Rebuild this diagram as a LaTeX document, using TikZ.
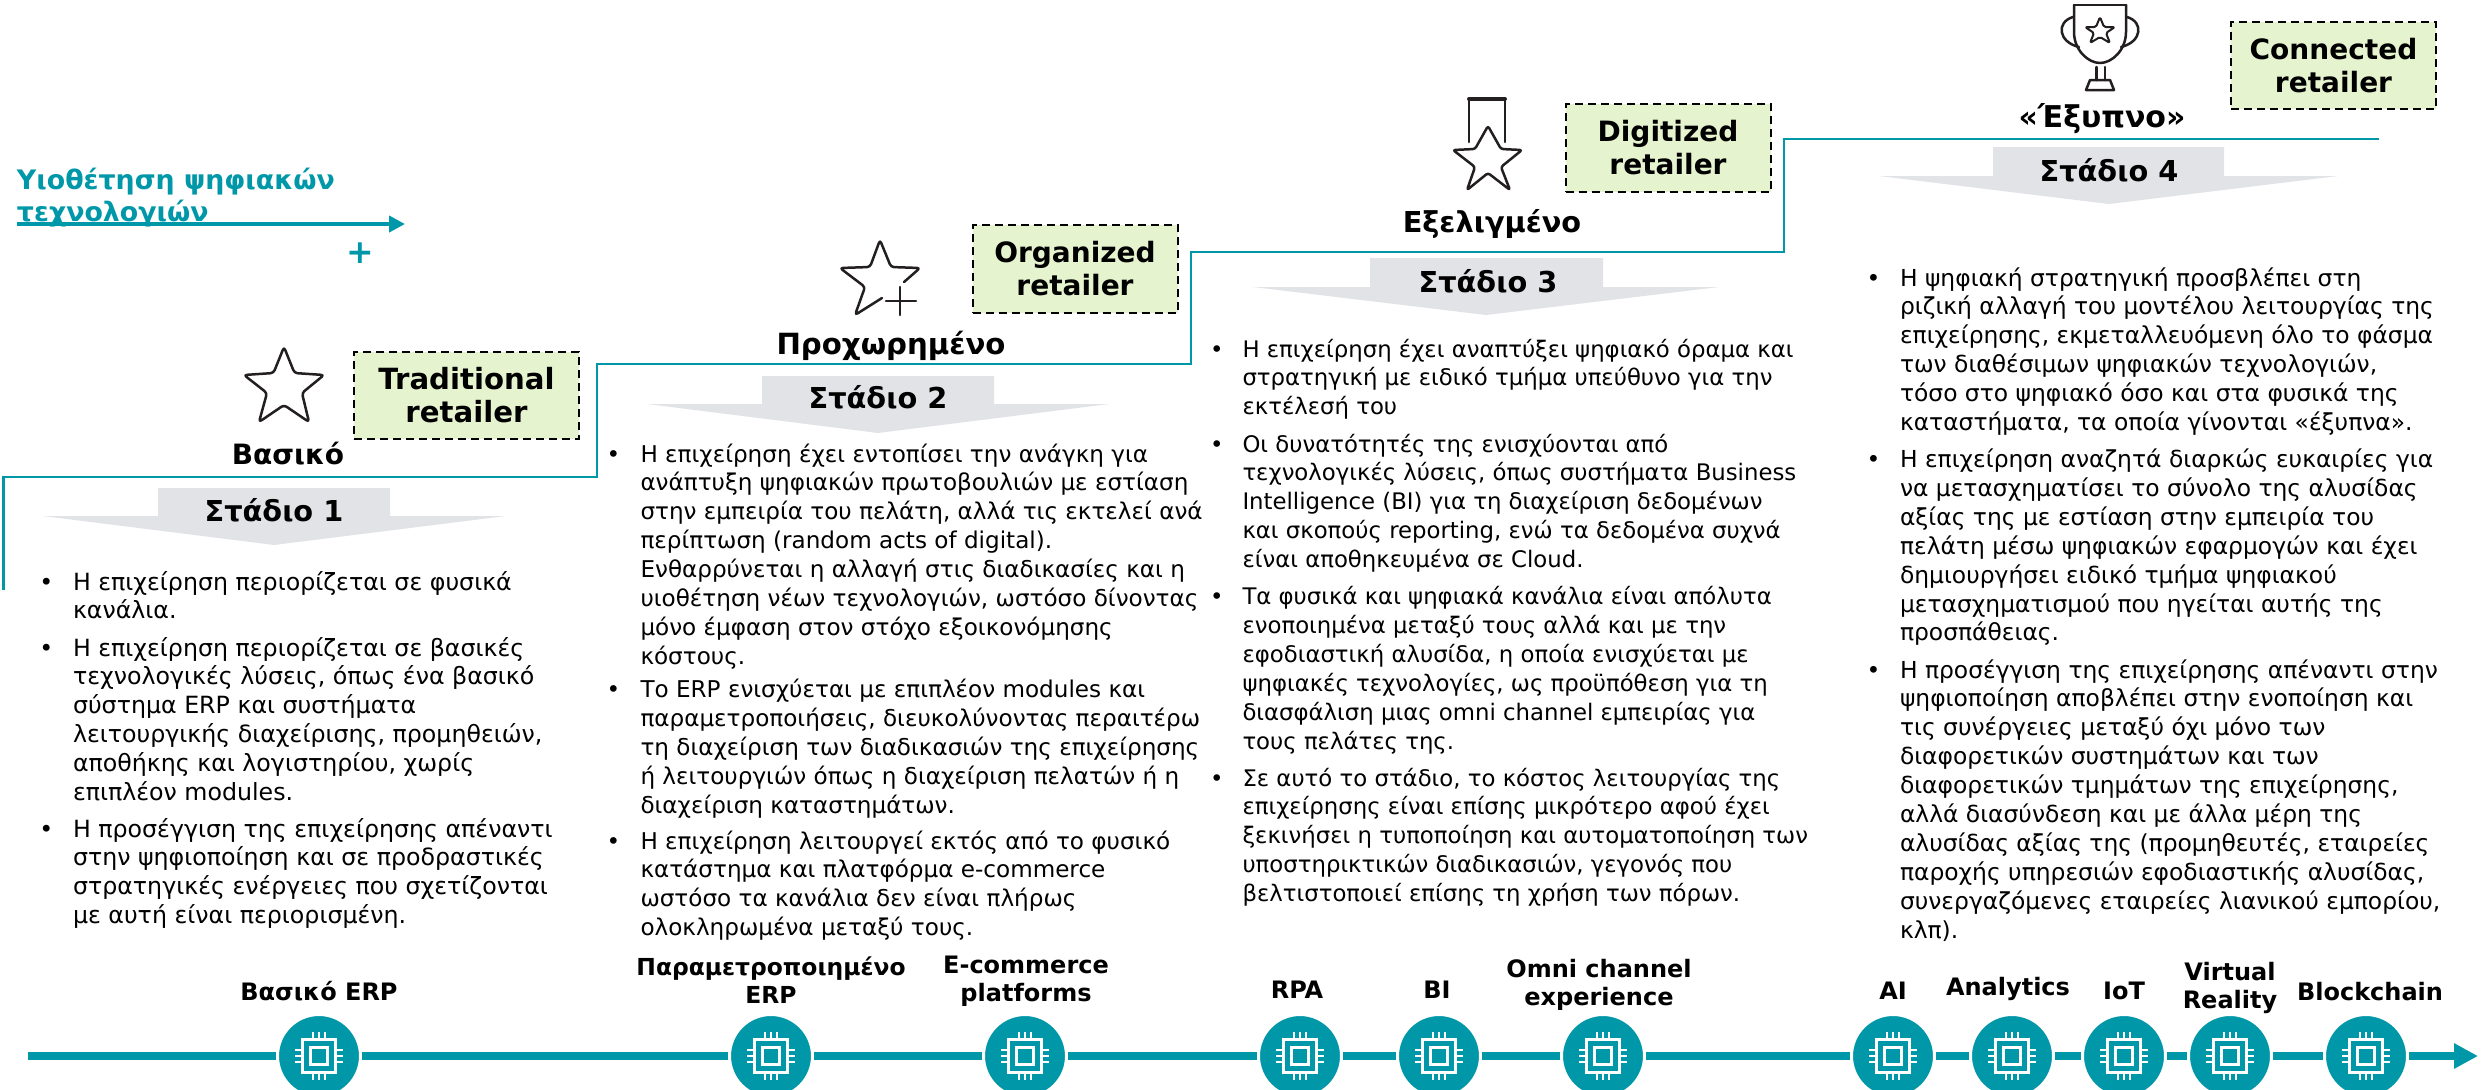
\documentclass[tikz,border=0pt]{standalone}
\usepackage{fontspec}
\setmainfont{DejaVu Sans}
\usetikzlibrary{arrows.meta}
\definecolor{teal1}{HTML}{0098A9}
\definecolor{tagfill}{HTML}{E6F3CF}
\definecolor{stagegray}{HTML}{E1E3E6}
\definecolor{iconink}{HTML}{231F20}
\newcommand\fsl[2]{\fontsize{#1}{#2}\selectfont}
\newcommand\para[6]{%
  \node[bodytext,font=\fsl{#6}{14.45}] (#1) at ({#3},{#4-40}) {\rule{0pt}{20pt}#5};
  \node[bodytext,font=\fsl{#6}{14.45}] (#1b) at ({#2},{#4-40}) {\rule{0pt}{20pt}•};}
\newcommand\clab[5]{\node[centertext,font=\bfseries\fsl{#5}{14.4}] (#1) at ({#2},{#3-40}) {\rule{0pt}{20pt}#4};}
\tikzset{
  bodytext/.style={anchor=north west,inner sep=0pt,outer sep=0pt,align=left,text=black},
  centertext/.style={anchor=north,inner sep=0pt,outer sep=0pt,align=center,text=black},
  chipnode/.style={circle,fill=teal1,draw=white,line width=1.5pt,minimum size=41.5pt,inner sep=0pt},
  trackline/.style={draw=teal1,line width=4pt},
  stair/.style={draw=teal1,line width=1.4pt,line join=miter},
  tagbox/.style={draw=black,dashed,line width=1pt,dash pattern=on 4pt off 2.5pt,fill=tagfill,inner sep=0pt,align=center,font=\bfseries\fsl{14}{16.5}},
  icon/.style={draw=iconink,line width=1.25pt,line join=round,line cap=round},
  stagearrow/.style={fill=stagegray,draw=none},
  chip/.pic={
    \draw[white,line width=1.2pt] (-16.5,-16.5) rectangle (16.5,16.5);
    \draw[white,line width=1.2pt] (-8.5,-8.5) rectangle (8.5,8.5);
    \foreach \k in {-6,0,6}{
      \draw[white,line width=1.2pt] (\k,-16.5) -- (\k,-24);
      \draw[white,line width=1.2pt] (\k,16.5) -- (\k,24);
      \draw[white,line width=1.2pt] (-16.5,\k) -- (-24,\k);
      \draw[white,line width=1.2pt] (16.5,\k) -- (24,\k);
    }
  }
}
\newcommand\stagearrow[8]{%
  \fill[stagearrow] (#2,#5) -- (#3,#5) -- (#3,#6) -- (#4,#6) -- (#7,#8) -- (#1,#6) -- (#2,#6) -- cycle;}
\begin{document}
\begin{tikzpicture}[x=0.5pt,y=-0.5pt]
\useasboundingbox (0,0) rectangle (2481,1089);

% title
\node[bodytext,text=teal1,font=\bfseries\fsl{13.4}{16}] (title) at (17,{189-40}) {\rule{0pt}{20pt}Υιοθέτηση ψηφιακών\\τεχνολογιών};
\coordinate (aS) at (17,224); \coordinate (aE) at (405,224);
\draw[draw=teal1,line width=2pt,-{Triangle[length=8pt,width=8pt]}] (aS) -- (aE);
\node[text=teal1,font=\bfseries\fsl{16.5}{20},inner sep=0pt] (plus) at (360,253) {+};

% staircase
\coordinate (s0) at (3.5,590); \coordinate (s1) at (3.5,477); \coordinate (s2) at (597,477);
\coordinate (s3) at (597,364); \coordinate (s4) at (1191,364); \coordinate (s5) at (1191,252);
\coordinate (s6) at (1784,252); \coordinate (s7) at (1784,139); \coordinate (s8) at (2379,139);
\draw[stair] (s0) -- (s1) -- (s2) -- (s3) -- (s4) -- (s5) -- (s6) -- (s7) -- (s8);

% stage arrows
\stagearrow{43}{158}{390}{506}{488}{516}{274}{545}
\stagearrow{647}{762}{994}{1109}{376}{404}{878}{433}
\stagearrow{1253}{1370}{1603}{1719}{258}{287}{1486}{315}
\stagearrow{1879}{1993}{2224}{2338}{147}{176}{2109}{204}
\clab{st1}{274}{521}{Στάδιο 1}{14.4}
\clab{st2}{878}{408}{Στάδιο 2}{14.4}
\clab{st3}{1488}{292}{Στάδιο 3}{14.4}
\clab{st4}{2109}{181}{Στάδιο 4}{14.4}

% level names
\clab{l1}{288}{464}{Βασικό}{14}
\clab{l2}{891}{354}{Προχωρημένο}{14.6}
\clab{l3}{1492}{232}{Εξελιγμένο}{14.4}
\clab{l4}{2102}{127}{«Έξυπνο»}{15}

% tags
\node[tagbox,minimum width=112.5pt,minimum height=43.5pt,font=\bfseries\fsl{14.6}{16.5}] (t1) at (466.5,395.5) {Traditional\\retailer};
\node[tagbox,minimum width=102.5pt,minimum height=44pt] (t2) at (1075,269) {Organized\\retailer};
\node[tagbox,minimum width=102.5pt,minimum height=44pt] (t3) at (1668,148) {Digitized\\retailer};
\node[tagbox,minimum width=102.5pt,minimum height=43.5pt] (t4) at (2333.5,65.5) {Connected\\retailer};

% icons
\draw[icon,rounded corners=1.5pt] (284,347) -- (294.5,373) -- (324,375) -- (302,393) -- (309,422) -- (284,405) -- (259,422) -- (267,393) -- (244,375) -- (273.5,373) -- cycle;
\draw[icon,rounded corners=1.5pt] (904,282) -- (920,268) -- (891,267) -- (880,240) -- (870,267) -- (840,268) -- (865,287) -- (855,315) -- (882,298);
\draw[icon] (886,301) -- (916,301);
\draw[icon] (900,287) -- (900,315);
\draw[icon] (1469,142) -- (1469,99) -- (1505,99) -- (1505,142);
\draw[icon,line width=2pt] (1469,99) -- (1505,99);
\draw[icon,rounded corners=1.2pt] (1488,126) -- (1501,149) -- (1522,150) -- (1501,167) -- (1510,190) -- (1488,173) -- (1467,190) -- (1475,167) -- (1453,150) -- (1475,149) -- cycle;
% trophy
\draw[icon] (2074,5) -- (2126,5);
\draw[icon] (2074,5) -- (2074,32) .. controls (2074,50) and (2088,63) .. (2100,63) .. controls (2112,63) and (2126,50) .. (2126,32) -- (2126,5);
\draw[icon] (2073,17) .. controls (2056,22) and (2058,42) .. (2079,47);
\draw[icon] (2127,17) .. controls (2144,22) and (2142,42) .. (2121,47);
\draw[icon,line width=1pt,rounded corners=0.8pt] (2100,17) -- (2104,27) -- (2115,27) -- (2106,33) -- (2110,43) -- (2100,37) -- (2090,43) -- (2094,33) -- (2085,27) -- (2096,27) -- cycle;
\draw[icon] (2096.5,67) -- (2096.5,80);
\draw[icon] (2105,67) -- (2105,80);
\draw[icon] (2090,80) -- (2110,80) -- (2114,90) -- (2086,90) -- cycle;

% stage 1 text
\para{a1}{39.5}{73}{590}{Η επιχείρηση περιορίζεται σε φυσικά\\κανάλια.}{11.85}
\para{a2}{39.5}{73}{656}{Η επιχείρηση περιορίζεται σε βασικές\\τεχνολογικές λύσεις, όπως ένα βασικό\\σύστημα ERP και συστήματα\\λειτουργικής διαχείρισης, προμηθειών,\\αποθήκης και λογιστηρίου, χωρίς\\επιπλέον modules.}{11.85}
\para{a3}{39.5}{73}{837}{Η προσέγγιση της επιχείρησης απέναντι\\στην ψηφιοποίηση και σε προδραστικές\\στρατηγικές ενέργειες που σχετίζονται\\με αυτή είναι περιορισμένη.}{11.85}

% stage 2 text
\para{b1}{606.5}{640.5}{462}{Η επιχείρηση έχει εντοπίσει την ανάγκη για\\ανάπτυξη ψηφιακών πρωτοβουλιών με εστίαση\\στην εμπειρία του πελάτη, αλλά τις εκτελεί ανά\\περίπτωση (random acts of digital).\\Ενθαρρύνεται η αλλαγή στις διαδικασίες και η\\υιοθέτηση νέων τεχνολογιών, ωστόσο δίνοντας\\μόνο έμφαση στον στόχο εξοικονόμησης\\κόστους.}{11.55}
\para{b2}{606.5}{640.5}{697.5}{Το ERP ενισχύεται με επιπλέον modules και\\παραμετροποιήσεις, διευκολύνοντας περαιτέρω\\τη διαχείριση των διαδικασιών της επιχείρησης\\ή λειτουργιών όπως η διαχείριση πελατών ή η\\διαχείριση καταστημάτων.}{11.55}
\para{b3}{606.5}{640.5}{849}{Η επιχείρηση λειτουργεί εκτός από το φυσικό\\κατάστημα και πλατφόρμα e-commerce\\ωστόσο τα κανάλια δεν είναι πλήρως\\ολοκληρωμένα μεταξύ τους.}{11.55}

% stage 3 text
\para{c1}{1210}{1242.5}{357}{Η επιχείρηση έχει αναπτύξει ψηφιακό όραμα και\\στρατηγική με ειδικό τμήμα υπεύθυνο για την\\εκτέλεσή του}{11.4}
\para{c2}{1210}{1242.5}{452}{Οι δυνατότητές της ενισχύονται από\\τεχνολογικές λύσεις, όπως συστήματα Business\\Intelligence (BI) για τη διαχείριση δεδομένων\\και σκοπούς reporting, ενώ τα δεδομένα συχνά\\είναι αποθηκευμένα σε Cloud.}{11.4}
\para{c3}{1210}{1242.5}{604.5}{Τα φυσικά και ψηφιακά κανάλια είναι απόλυτα\\ενοποιημένα μεταξύ τους αλλά και με την\\εφοδιαστική αλυσίδα, η οποία ενισχύεται με\\ψηφιακές τεχνολογίες, ως προϋπόθεση για τη\\διασφάλιση μιας omni channel εμπειρίας για\\τους πελάτες της.}{11.4}
\para{c4}{1210}{1242.5}{786}{Σε αυτό το στάδιο, το κόστος λειτουργίας της\\επιχείρησης είναι επίσης μικρότερο αφού έχει\\ξεκινήσει η τυποποίηση και αυτοματοποίηση των\\υποστηρικτικών διαδικασιών, γεγονός που\\βελτιστοποιεί επίσης τη χρήση των πόρων.}{11.4}

% stage 4 text
\para{d1}{1866.5}{1900}{286}{Η ψηφιακή στρατηγική προσβλέπει στη\\ριζική αλλαγή του μοντέλου λειτουργίας της\\επιχείρησης, εκμεταλλευόμενη όλο το φάσμα\\των διαθέσιμων ψηφιακών τεχνολογιών,\\τόσο στο ψηφιακό όσο και στα φυσικά της\\καταστήματα, τα οποία γίνονται «έξυπνα».}{11.7}
\para{d2}{1866.5}{1900}{467.5}{Η επιχείρηση αναζητά διαρκώς ευκαιρίες για\\να μετασχηματίσει το σύνολο της αλυσίδας\\αξίας της με εστίαση στην εμπειρία του\\πελάτη μέσω ψηφιακών εφαρμογών και έχει\\δημιουργήσει ειδικό τμήμα ψηφιακού\\μετασχηματισμού που ηγείται αυτής της\\προσπάθειας.}{11.7}
\para{d3}{1866.5}{1900}{678}{Η προσέγγιση της επιχείρησης απέναντι στην\\ψηφιοποίηση αποβλέπει στην ενοποίηση και\\τις συνέργειες μεταξύ όχι μόνο των\\διαφορετικών συστημάτων και των\\διαφορετικών τμημάτων της επιχείρησης,\\αλλά διασύνδεση και με άλλα μέρη της\\αλυσίδας αξίας της (προμηθευτές, εταιρείες\\παροχής υπηρεσιών εφοδιαστικής αλυσίδας,\\συνεργαζόμενες εταιρείες λιανικού εμπορίου,\\κλπ).}{11.7}

% technology track
\foreach \n/\x in {c01/319,c02/771,c03/1025,c04/1300,c05/1439,c06/1603,c07/1893,c08/2012,c09/2124,c10/2230,c11/2366}{
  \node[chipnode] (\n) at (\x,1056) {};
  \pic at (\n) {chip};
}
\coordinate (tS) at (28,1056); \coordinate (tE) at (2478,1056);
\draw[trackline] (tS) -- (c01);
\foreach \p/\q in {c01/c02,c02/c03,c03/c04,c04/c05,c05/c06,c06/c07,c07/c08,c08/c09,c09/c10,c10/c11}{
  \draw[trackline] (\p) -- (\q);
}
\draw[trackline,-{Triangle[length=12pt,width=12pt]}] (c11) -- (tE);

% technology labels
\clab{k01}{319}{1000}{Βασικό ERP}{12}
\clab{k02}{771}{975}{Παραμετροποιημένο\\ERP}{11.7}
\clab{k03}{1026}{973}{E-commerce\\platforms}{12}
\clab{k04}{1297}{998}{RPA}{12}
\clab{k05}{1437}{998}{BI}{12}
\clab{k06}{1599}{977}{Omni channel\\experience}{12}
\clab{k07}{1893}{999}{AI}{12}
\clab{k08}{2008}{995}{Analytics}{12}
\clab{k09}{2124}{999}{IoT}{12}
\clab{k10}{2230}{980}{Virtual\\Reality}{12}
\clab{k11}{2370}{1000}{Blockchain}{12}
\end{tikzpicture}
\end{document}
